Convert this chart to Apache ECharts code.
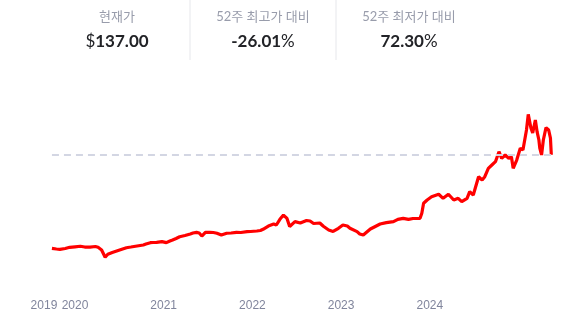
<!DOCTYPE html>
<html>
<head>
<meta charset="utf-8">
<script src="https://cdn.jsdelivr.net/npm/echarts@6/dist/echarts.min.js"></script>
<style>
html,body{margin:0;padding:0;background:#fff;}
#c{width:588px;height:326px;}
</style>
</head>
<body>
<div id="c"></div>
<script>
// time as decimal year, price in USD
const years = [2019.74,2019.79,2019.83,2019.89,2019.94,2020.00,2020.06,2020.11,2020.17,2020.23,2020.26,2020.30,2020.34,2020.37,2020.42,2020.47,2020.52,2020.58,2020.63,2020.70,2020.77,2020.80,2020.85,2020.88,2020.92,2020.98,2021.03,2021.07,2021.10,2021.14,2021.18,2021.24,2021.30,2021.33,2021.37,2021.40,2021.43,2021.47,2021.52,2021.56,2021.60,2021.65,2021.71,2021.76,2021.82,2021.87,2021.94,2021.98,2022.05,2022.09,2022.12,2022.18,2022.24,2022.27,2022.31,2022.35,2022.39,2022.42,2022.48,2022.54,2022.61,2022.65,2022.69,2022.76,2022.80,2022.86,2022.91,2022.97,2023.02,2023.07,2023.10,2023.18,2023.21,2023.25,2023.29,2023.33,2023.38,2023.44,2023.51,2023.59,2023.64,2023.70,2023.76,2023.81,2023.86,2023.89,2023.91,2023.93,2023.97,2024.02,2024.06,2024.10,2024.15,2024.21,2024.27,2024.32,2024.36,2024.42,2024.45,2024.49,2024.55,2024.59,2024.62,2024.66,2024.70,2024.74,2024.78,2024.81,2024.85,2024.89,2024.92,2024.94,2024.98,2025.02,2025.05,2025.07,2025.09,2025.11,2025.14,2025.16,2025.19,2025.21,2025.23,2025.24,2025.26,2025.28,2025.31,2025.34,2025.36,2025.37];
const prices = [25.6,24.8,24.4,25.4,26.8,27.4,28.0,27.1,27.1,27.7,26.8,23.6,14.9,18.5,20.6,22.4,24.2,26.3,27.1,28.3,29.5,30.7,32.3,32.5,32.7,33.5,32.3,34.3,35.5,37.3,39.4,40.8,42.6,43.8,44.6,43.8,40.2,44.6,44.6,44.4,43.5,41.4,43.5,43.8,44.6,44.4,45.4,45.6,46.2,46.8,48.2,52.1,54.5,53.3,60.1,65.2,61.1,51.5,57.3,55.7,58.7,58.1,55.1,55.7,51.8,47.4,45.6,49.4,53.3,52.1,49.4,45.4,42.6,41.4,45.0,48.6,51.3,54.5,56.1,57.3,60.1,61.3,60.1,61.1,61.1,61.3,67.3,79.2,83.1,87.0,88.5,89.9,85.1,89.9,83.1,85.1,81.1,85.1,93.0,89.0,110.8,106.9,110.8,120.8,124.8,128.7,140.6,132.7,136.7,132.7,134.6,120.8,130.7,144.6,142.6,144.6,166.4,185.1,168.8,162.9,178.3,164.1,154.5,145.0,136.7,154.5,169.2,166.4,156.9,137.0];
const tickValues = [2019.65,2020,2021,2022,2023,2024];
const tickLabels = ['2019','2020','2021','2022','2023','2024'];
const currentPrice = 137.00;
const headerLabels = ['현재가','52주 최고가 대비','52주 최저가 대비'];
const headerValues = [['$','137.00',''],['','-26.01','%'],['','72.30','%']];

const chart = echarts.init(document.getElementById('c'), null, {renderer:'canvas'});
const data = years.map((y,i)=>[y,prices[i]]);
const FONT = 'Lato, "Noto Sans CJK KR", sans-serif';
const colCenters = [117, 263, 409];
const graphics = [];
headerLabels.forEach((t,i)=>{
  graphics.push({type:'text', x:colCenters[i], y:17, style:{text:t, fill:'#989cab', font:'13px '+FONT, textAlign:'center', textVerticalAlign:'middle'}});
  const v = headerValues[i];
  graphics.push({type:'text', x:colCenters[i], y:42, style:{
    text:(v[0]?'{n|'+v[0]+'}':'')+'{b|'+v[1]+'}'+(v[2]?'{n|'+v[2]+'}':''),
    textAlign:'center', textVerticalAlign:'middle',
    rich:{
      b:{fontFamily:FONT, fontSize:17, fontWeight:'bold', fill:'#222327', color:'#222327'},
      n:{fontFamily:FONT, fontSize:17, fontWeight:'normal', fill:'#222327', color:'#222327'}
    }}});
});
[190,336].forEach(x=>{
  graphics.push({type:'line', shape:{x1:x,y1:0,x2:x,y2:60}, style:{stroke:'#e6e7eb', lineWidth:1}});
});

chart.setOption({
  animation:false,
  graphic: graphics,
  grid:{left:30.65, right:25.15, top:101.8, bottom:56.2},
  xAxis:{
    type:'value', min:2019.5, max:2025.5,
    axisLine:{show:false}, axisTick:{show:false}, splitLine:{show:false},
    axisLabel:{
      customValues: tickValues,
      formatter:(v)=>{const i=tickValues.findIndex(t=>Math.abs(t-v)<1e-6);return i>=0?tickLabels[i]:'';},
      color:'#80859c', fontSize:12, fontFamily:'"Liberation Sans", Arial, sans-serif', margin:30
    }
  },
  yAxis:{type:'value', min:0, max:200, show:false, splitLine:{show:false}},
  series:[
    {type:'line', data:[], z:1, silent:true,
     markLine:{symbol:'none', silent:true, label:{show:false},
       lineStyle:{color:'#d3d6e3', type:[7,5], width:2},
       data:[[{coord:[years[0],currentPrice]},{coord:[years[years.length-1],currentPrice]}]]}},
    {type:'line', data:data, z:3, showSymbol:false, symbol:'none',
     lineStyle:{color:'#ff0000', width:3.2}, itemStyle:{color:'#ff0000'}}
  ]
});
</script>
</body>
</html>
